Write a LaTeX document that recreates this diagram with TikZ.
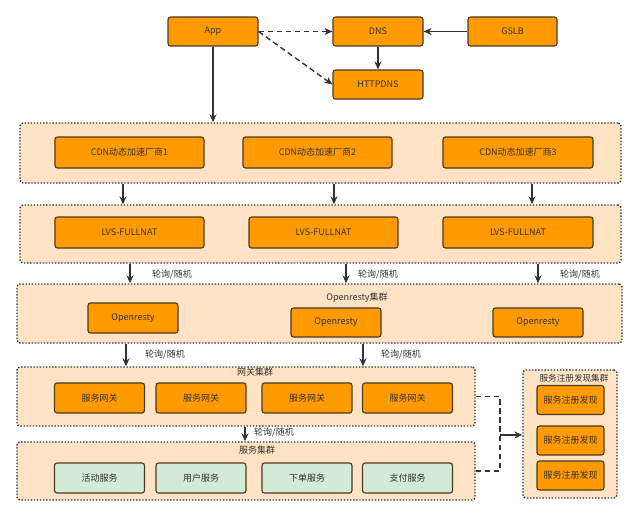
\documentclass[tikz,border=0pt]{standalone}
\usepackage{fontspec}
\setmainfont{Noto Sans CJK SC}
\usetikzlibrary{arrows.meta}
\definecolor{boxorange}{HTML}{FF9A00}
\definecolor{boxline}{HTML}{4A3A22}
\definecolor{grouppeach}{HTML}{FFE3C4}
\definecolor{boxgreen}{HTML}{D2EAD6}
\definecolor{txtgray}{HTML}{333333}
\begin{document}
\begin{tikzpicture}[x=1pt,y=-1pt,>={Stealth[length=8pt,width=7pt]},
    font=\fontsize{9}{11}\selectfont,text=txtgray,
    box/.style={draw=boxline,fill=boxorange,line width=1.1pt,rounded corners=2.5pt,
        minimum width=90pt,minimum height=29pt,inner sep=0pt},
    svcbox/.style={box,fill=boxgreen},
    group/.style={draw=txtgray,fill=grouppeach,line width=1.4pt,
        dash pattern=on 1.4pt off 1.7pt,rounded corners=3pt,inner sep=0pt},
    conn/.style={draw=txtgray,line width=1.1pt},
    dashconn/.style={conn,line width=1.4pt,dash pattern=on 5.5pt off 3.5pt}]
\useasboundingbox (0,0) rectangle (640,517);

\node[group,minimum width=601pt,minimum height=60pt](cdnc) at (320.5,153){};
\node[group,minimum width=601pt,minimum height=58pt](lvsc) at (320.5,234){};
\node[group,minimum width=605pt,minimum height=59pt](orc) at (319.5,313.5){};
\node[group,minimum width=458pt,minimum height=59pt](gwc) at (246,396.5){};
\node[group,minimum width=458pt,minimum height=58pt](svcc) at (246,471){};
\node[group,minimum width=94pt,minimum height=128pt](regc) at (570,434){};

\node(ortitle) at (357,298){Openresty集群};
\node(gwtitle) at (255,372){网关集群};
\node(svctitle) at (257,450){服务集群};
\node[font=\fontsize{8.6}{10}\selectfont](regtitle) at (574,378){服务注册发现集群};

\node[box](app) at (213,31.5){App};
\node[box](dns) at (378,31.5){DNS};
\node[box,minimum width=89pt](gslb) at (512.5,31.5){GSLB};
\node[box](httpdns) at (378,84.5){HTTPDNS};

\node[box,minimum width=149pt,minimum height=31pt](cdn1) at (129.5,152.5){CDN动态加速厂商1};
\node[box,minimum width=149pt,minimum height=31pt](cdn2) at (317.5,152.5){CDN动态加速厂商2};
\node[box,minimum width=150pt,minimum height=31pt](cdn3) at (518,152.5){CDN动态加速厂商3};

\node[box,minimum width=149pt,minimum height=31pt](lvs1) at (129.5,232.5){LVS-FULLNAT};
\node[box,minimum width=149pt,minimum height=31pt](lvs2) at (323.5,232.5){LVS-FULLNAT};
\node[box,minimum width=150pt,minimum height=31pt](lvs3) at (518,232.5){LVS-FULLNAT};

\node[box,minimum height=30pt](or1) at (133,318){Openresty};
\node[box](or2) at (336,322.5){Openresty};
\node[box](or3) at (538,322.5){Openresty};

\node[box,minimum height=30pt](gw1) at (99.5,398){服务网关};
\node[box,minimum height=30pt](gw2) at (201,398){服务网关};
\node[box,minimum height=30pt](gw3) at (307,398){服务网关};
\node[box,minimum height=30pt](gw4) at (407.5,398){服务网关};

\node[svcbox,minimum height=30pt](svc1) at (99.5,478){活动服务};
\node[svcbox,minimum height=30pt](svc2) at (201,478){用户服务};
\node[svcbox,minimum height=30pt](svc3) at (307,478){下单服务};
\node[svcbox,minimum height=30pt](svc4) at (407.5,478){支付服务};

\node[box,minimum width=67pt,minimum height=29pt](reg1) at (570.5,400){服务注册发现};
\node[box,minimum width=67pt,minimum height=29pt](reg2) at (570.5,440.5){服务注册发现};
\node[box,minimum width=67pt,minimum height=29pt](reg3) at (570.5,475.5){服务注册发现};

\draw[conn,->](app)--(app |- cdnc.north);
\draw[dashconn,->](app)--(dns);
\draw[dashconn,->](app.east)--(httpdns.west);
\draw[conn,->](dns)--(httpdns);
\draw[conn,->](gslb)--(dns);

\coordinate(a1) at (123,0);
\coordinate(a2) at (334,0);
\coordinate(a3) at (532,0);
\draw[conn,->](a1 |- cdnc.south)--(a1 |- lvsc.north);
\draw[conn,->](a2 |- cdnc.south)--(a2 |- lvsc.north);
\draw[conn,->](a3 |- cdnc.south)--(a3 |- lvsc.north);

\coordinate(b1) at (130,0);
\coordinate(b2) at (346,0);
\coordinate(b3) at (538,0);
\draw[conn,->](b1 |- lvsc.south)--(b1 |- orc.north);
\draw[conn,->](b2 |- lvsc.south)--(b2 |- orc.north);
\draw[conn,->](b3 |- lvsc.south)--(b3 |- orc.north);
\node(rr1) at (172,275){轮询/随机};
\node(rr2) at (378,275){轮询/随机};
\node(rr3) at (580,275){轮询/随机};

\coordinate(c1) at (126,0);
\coordinate(c2) at (363,0);
\draw[conn,->](c1 |- orc.south)--(c1 |- gwc.north);
\draw[conn,->](c2 |- orc.south)--(c2 |- gwc.north);
\node(rr4) at (165,355){轮询/随机};
\node(rr5) at (401,355){轮询/随机};

\coordinate(d1) at (245,0);
\draw[conn,->](d1 |- gwc.south)--(d1 |- svcc.north);
\node(rr6) at (274,433){轮询/随机};

\coordinate(join) at (500,435);
\draw[dashconn](gwc.east)-|(join);
\draw[dashconn](svcc.east)-|(join);
\draw[conn,->](join)--(join -| regc.west);

\end{tikzpicture}
\end{document}
